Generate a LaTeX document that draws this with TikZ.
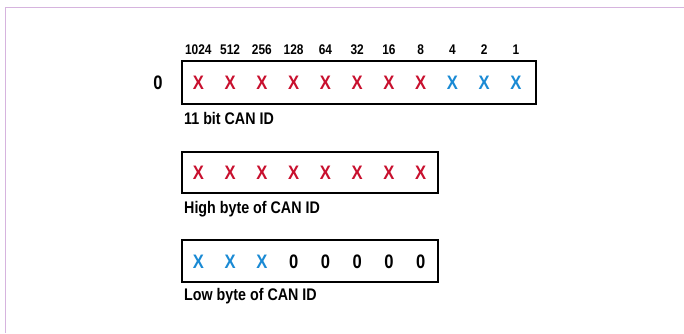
\documentclass[tikz,border=0pt]{standalone}
\usepackage{fontspec}
\setmainfont[FakeStretch=0.85]{Liberation Sans}
\definecolor{framecol}{HTML}{D6B4DE}
\definecolor{redx}{HTML}{C8102E}
\definecolor{bluex}{HTML}{1A8AD4}
\begin{document}
\begin{tikzpicture}[x=1pt,y=-1pt,
  txt/.style={font=\bfseries\fontsize{19.5}{22}\selectfont, inner sep=0pt},
  rx/.style={txt, text=redx},
  bx/.style={txt, text=bluex},
  kx/.style={txt, text=black},
  wt/.style={font=\bfseries\fontsize{14}{16}\selectfont, inner sep=0pt},
  captxt/.style={font=\bfseries\fontsize{16.8}{19}\selectfont, inner sep=0pt, anchor=west},
  regbox/.style={draw=black, line width=1.5pt, inner sep=0pt}]
\useasboundingbox (0,0) rectangle (684,333);
\draw[framecol, line width=1.6pt] (5.5,333) -- (5.5,7.5) -- (684,7.5);
% box 1
\node[regbox, minimum width=354pt, minimum height=43pt] (b1) at (359,82.5) {};
\node[txt] (zero) at (158,82.5) {0};
\foreach \w [count=\i from 0] in {1024,512,256,128,64,32,16,8,4,2,1} {
  \node[wt] (w\i) at ({198.3+31.77*\i},50) {\w};
}
\foreach \i in {0,...,7} { \node[rx] (a\i) at ({198.3+31.77*\i},82.5) {X}; }
\foreach \i in {8,9,10} { \node[bx] (a\i) at ({198.3+31.77*\i},82.5) {X}; }
\node[captxt] (l1) at (184,118.3) {11 bit CAN ID};
% box 2
\node[regbox, minimum width=256pt, minimum height=41pt] (b2) at (310,172.5) {};
\foreach \i in {0,...,7} { \node[rx] (h\i) at ({198.3+31.77*\i},172.5) {X}; }
\node[captxt] (l2) at (184,209.5) {High byte of CAN ID};
% box 3
\node[regbox, minimum width=256pt, minimum height=42pt] (b3) at (310,261) {};
\foreach \i in {0,1,2} { \node[bx] (c\i) at ({198.3+31.77*\i},262) {X}; }
\foreach \i in {3,...,7} { \node[kx] (c\i) at ({198.3+31.77*\i},262) {0}; }
\node[captxt] (l3) at (184,296.5) {Low byte of CAN ID};
\end{tikzpicture}
\end{document}
